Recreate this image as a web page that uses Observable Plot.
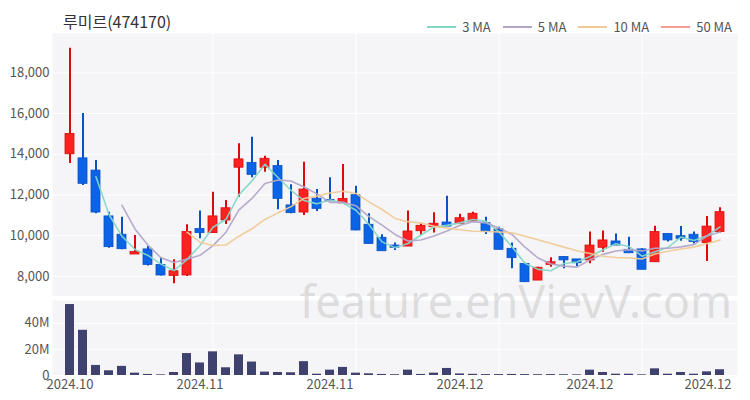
<!DOCTYPE html>
<html><head><meta charset="utf-8">
<script src="https://cdn.jsdelivr.net/npm/d3@7"></script>
<script src="https://cdn.jsdelivr.net/npm/@observablehq/plot@0.6"></script>
<style>
body{margin:0;background:#fff;font-family:"Noto Sans CJK KR","Noto Sans",sans-serif;}
#wrap{position:relative;width:750px;height:400px;overflow:hidden;}
#head{position:relative;height:33px;}
#title{position:absolute;left:63px;top:12px;font-size:16px;line-height:18px;color:#333;}
#legend{position:absolute;right:18px;top:17px;display:flex;align-items:center;font-size:13px;color:#555;}
.item{display:flex;align-items:center;margin-left:12px;}
.sw{width:29px;height:2px;margin-right:6px;}
svg{display:block;}
#wm{position:absolute;right:18px;top:270px;font-family:"Noto Sans","DejaVu Sans",sans-serif;font-size:45px;color:rgba(185,185,185,0.42);pointer-events:none;}
</style></head>
<body><div id="wrap"><div id="head"><div id="title"></div><div id="legend"></div></div><div id="price"></div><div id="vol"></div><div id="wm">feature.enVievV.com</div></div>
<script>
const title = "루미르(474170)";
const open  = [14000,13800,13200,10950,10050,9080,9330,8570,8030,8050,10330,10130,10750,13340,13580,13340,13420,11490,11140,11820,11760,11590,11990,10540,9900,9520,9470,10220,10420,10650,10590,10700,10620,10310,9360,8620,7800,8570,8960,8840,8790,9410,9720,9310,9330,8700,10090,9980,10050,9640,10180];
const high  = [19200,16000,13700,11160,10910,10010,9470,8920,8820,10540,11210,12140,11730,14520,14840,13900,13700,12500,13610,12270,12850,13500,12430,11080,10050,9640,11210,10590,11130,11940,11050,11160,10910,10420,9640,8650,8460,8920,8960,8840,10180,10230,10090,9930,9360,10470,10090,10460,10180,10950,11370];
const low   = [13550,12470,11080,9390,9310,9080,8510,8020,7640,8000,9850,10130,10550,11890,12850,13120,11280,11080,11000,11190,11680,11590,10240,9590,9230,9280,9470,10010,10130,10450,10590,10670,10060,9310,8380,7720,7800,8460,8380,8490,8620,9190,9520,9140,8330,8700,9690,9730,9600,8740,10130];
const close = [15000,12550,11140,9440,9340,9200,8570,8050,8260,10180,10130,10950,11350,13750,12990,13780,11810,11110,12270,11320,11690,11810,10260,9600,9240,9410,10210,10490,10590,10450,10860,11080,10180,9310,8900,7720,8430,8700,8790,8650,9520,9770,9520,9140,8330,10180,9770,9850,9690,10450,11160];
const volumeM = [54.3,34.6,7.7,3.6,7.0,1.8,0.8,0.5,2.3,16.8,9.6,18.1,5.9,15.8,10.3,2.6,2.3,2.1,10.6,1.0,4.1,6.2,1.8,1.3,0.8,0.6,4.1,0.8,1.8,5.4,1.2,0.9,0.7,0.7,0.8,0.7,0.6,0.7,0.6,0.5,4.1,2.3,1.0,1.0,0.5,5.1,1.0,2.3,1.0,2.8,4.4];
const tickIdx = [0,10,20,30,40,50];
const tickLabels = ["2024.10","2024.11","2024.11","2024.12","2024.12","2024.12"];
const gridIdx = [11,22,33,44];
const priceTicks = [8000,10000,12000,14000,16000,18000];
const volTicks = [0,20,40];
const maLabels = ["3 MA","5 MA","10 MA","50 MA"];
const maK = [3,5,10,50];
const maColors = ["#86d6c6","#b3a5c9","#efca97","#f79c94"];
const RED = "#fb2222", RED_S = "#dd0a0a", BLUE = "#0b63e6", BLUE_S = "#0a52c4";

document.getElementById("title").textContent = title;
const leg = document.getElementById("legend");
maLabels.forEach((l,j)=>{
  const it = document.createElement("div"); it.className="item";
  const sw = document.createElement("div"); sw.className="sw"; sw.style.background = maColors[j];
  const tx = document.createElement("span"); tx.textContent = l;
  it.appendChild(sw); it.appendChild(tx); leg.appendChild(it);
});

const idx = d3.range(close.length);
const data = idx.map(i=>({i, o:open[i], h:high[i], l:low[i], c:close[i], v:volumeM[i]*1e6, up: close[i]>=open[i]}));
const xOpt = {type:"band", domain: idx, paddingInner:0.33, paddingOuter:0.16, axis:null};

const maMarks = maK.slice(0,3).map((k,j)=>Plot.lineY(data, Plot.windowY({k, reduce:"mean", anchor:"end", strict:true}, {x:"i", y:"c", stroke: maColors[j], strokeWidth:1.6, strokeOpacity:0.95})));

const price = Plot.plot({
  width:750, height:263, marginLeft:52, marginRight:13, marginTop:0, marginBottom:0,
  style:{fontFamily:'"Noto Sans CJK KR","Noto Sans",sans-serif', fontSize:"13px", color:"#555", background:"transparent"},
  x: xOpt,
  y: {domain:[7018,19930], axis:null},
  marks:[
    Plot.frame({fill:"#f5f5f7", stroke:null}),
    Plot.gridY(priceTicks, {stroke:"#fff", strokeOpacity:1, strokeWidth:1}),
    Plot.ruleX(gridIdx, {x:d=>d, stroke:"#fff", strokeOpacity:1, strokeWidth:1}),
    Plot.axisY(priceTicks, {tickSize:0, tickPadding:3, tickFormat:d3.format(","), fill:"#555", fontSize:13, label:null}),
    Plot.ruleX(data, {x:"i", y1:"l", y2:"h", stroke:d=>d.up?RED_S:BLUE_S, strokeWidth:2}),
    Plot.barY(data, {x:"i", y1:"o", y2:"c", fill:d=>d.up?RED:BLUE, stroke:d=>d.up?RED_S:BLUE_S, strokeWidth:0.8}),
    ...maMarks
  ]
});
document.getElementById("price").appendChild(price);

const lastJ = tickIdx.length-1;
const tdata = tickIdx.map((d,j)=>({i:d, label:tickLabels[j]}));
const vol = Plot.plot({
  width:750, height:104, marginLeft:52, marginRight:13, marginTop:4, marginBottom:25,
  style:{fontFamily:'"Noto Sans CJK KR","Noto Sans",sans-serif', fontSize:"13px", color:"#555", background:"transparent"},
  x: xOpt,
  y: {domain:[0,57.4e6], axis:null},
  marks:[
    Plot.frame({fill:"#f5f5f7", stroke:null}),
    Plot.gridY(volTicks.map(d=>d*1e6), {stroke:"#fff", strokeOpacity:1, strokeWidth:1}),
    Plot.ruleX(gridIdx, {x:d=>d, stroke:"#fff", strokeOpacity:1, strokeWidth:1}),
    Plot.barY(data, {x:"i", y:"v", fill:"#3f416e"}),
    Plot.axisY(volTicks.map(d=>d*1e6), {tickSize:0, tickPadding:3, tickFormat:d=>d===0?"0":(d/1e6)+"M", fill:"#555", fontSize:13, label:null}),
    Plot.text(tdata.slice(0,lastJ), {x:"i", y:0, text:"label", dy:9, fill:"#555", fontSize:13}),
    Plot.text(tdata.slice(lastJ), {x:"i", y:0, text:"label", dy:9, dx:-12, fill:"#555", fontSize:13})
  ]
});
document.getElementById("vol").appendChild(vol);
</script></body></html>
